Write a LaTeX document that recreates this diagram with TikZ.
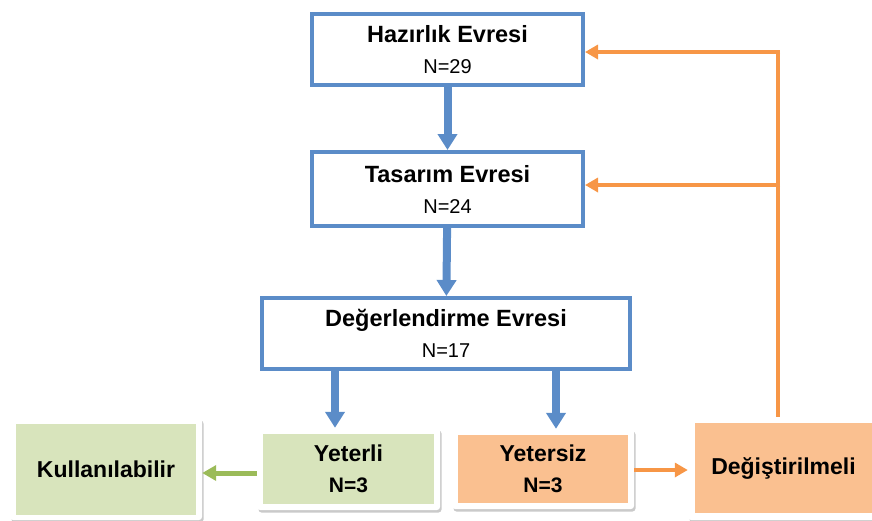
\documentclass[tikz,border=0pt]{standalone}
\usepackage{fontspec}
\setmainfont{Liberation Sans}
\usetikzlibrary{arrows.meta,shadows}
\definecolor{bluebd}{RGB}{91,140,200}
\definecolor{grfill}{RGB}{216,228,188}
\definecolor{orfill}{RGB}{250,192,144}
\definecolor{grarrow}{RGB}{155,187,89}
\definecolor{orarrow}{RGB}{247,150,70}
\begin{document}
\begin{tikzpicture}[x=1pt,y=-1pt,
  phase/.style={draw=bluebd, line width=4pt, fill=white, inner sep=0pt, align=center,
    font={\fontsize{23.5}{31}\selectfont}},
  card/.style={fill=white, rounded corners=3pt, inner sep=0pt,
    drop shadow={shadow xshift=1.5pt, shadow yshift=-2.5pt, opacity=0.35, fill=black!60}},
  inbox/.style={inner sep=0pt, align=center, font={\fontsize{23}{31}\selectfont\bfseries}},
  bluearr/.style={draw=bluebd, line width=8pt, -{Triangle[width=19pt,length=16pt]}},
  orarr/.style={draw=orarrow, line width=4pt, -{Triangle[width=14pt,length=13pt]}},
  orline/.style={draw=orarrow, line width=4pt},
  grarr/.style={draw=grarrow, line width=5pt, -{Triangle[width=15pt,length=14pt]}}
]
\useasboundingbox (0,0) rectangle (872,520);

% phase boxes
\node[phase, minimum width=271pt, minimum height=71pt] (haz) at (447.5,49.5)
  {\textbf{Hazırlık Evresi}\\{\fontsize{20}{31}\selectfont N=29}};
\node[phase, minimum width=271pt, minimum height=74pt] (tas) at (447.5,189)
  {\textbf{Tasarım Evresi}\\{\fontsize{20}{31}\selectfont N=24}};
\node[phase, minimum width=368pt, minimum height=71pt] (deg) at (446,333.5)
  {\textbf{Değerlendirme Evresi}\\{\fontsize{20}{31}\selectfont N=17}};

% bottom cards (white frames)
\node[card, minimum width=192pt, minimum height=102pt] (kulf) at (106,469) {};
\node[card, minimum width=183pt, minimum height=82pt] (yelf) at (348.5,469) {};
\node[card, minimum width=182pt, minimum height=80pt] (yesf) at (543,469) {};
\node[card, minimum width=190pt, minimum height=103pt] (dgf) at (783,468.5) {};

% inner coloured boxes
\node[inbox, fill=grfill, minimum width=180pt, minimum height=91pt] (kul) at (106,469.5)
  {Kullanılabilir};
\node[inbox, fill=grfill, minimum width=171pt, minimum height=70pt] (yel) at (348.5,469)
  {Yeterli\\{\fontsize{21}{31}\selectfont N=3}};
\node[inbox, fill=orfill, minimum width=170pt, minimum height=68pt] (yes) at (543,469)
  {Yetersiz\\{\fontsize{21}{31}\selectfont N=3}};
\node[inbox, fill=orfill, minimum width=177pt, minimum height=90pt] (dgs) at (783.5,468)
  {Değiştirilmeli};

% blue arrows
\draw[bluearr] (haz) -- (tas);
\draw[bluearr] (tas) -- (deg);
\coordinate (b1) at (335,0);
\coordinate (b2) at (556,0);
\draw[bluearr] (deg.south -| b1) -- (yelf.north -| b1);
\draw[bluearr] (deg.south -| b2) -- (yesf.north -| b2);

% green and orange arrows
\draw[grarr] (yelf.west |- 0,473) -- (kulf.east |- 0,473);
\draw[orarr] (yesf.east |- 0,470) -- (dgf.west |- 0,470);

% feedback
\coordinate (fb1) at (778,52);
\coordinate (fb2) at (778,185);
\draw[orline] (dgf.north -| fb1) -- ([yshift=-2pt]fb1);
\draw[orarr] ([xshift=2pt]fb1) -- (fb1 -| haz.east);
\draw[orarr] ([xshift=2pt]fb2) -- (fb2 -| tas.east);
\end{tikzpicture}
\end{document}
